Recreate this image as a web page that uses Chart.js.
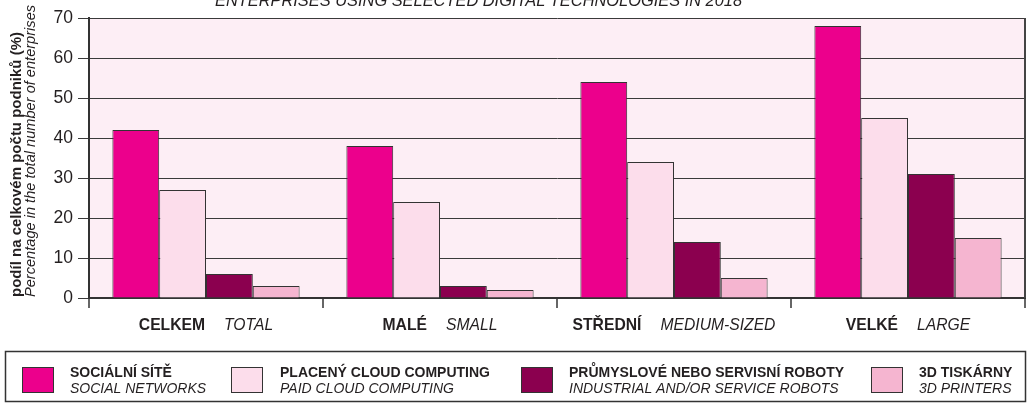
<!DOCTYPE html>
<html>
<head>
<meta charset="utf-8">
<script src="https://cdn.jsdelivr.net/npm/chart.js@4/dist/chart.umd.min.js"></script>
<style>
  body { margin: 0; background: #fff; }
  #wrap { width: 1035px; height: 407px; }
</style>
</head>
<body>
<div id="wrap"><canvas id="techChart" width="1035" height="407"></canvas></div>
<script>
// kategorie podniků
var groupsCz = ['CELKEM', 'MALÉ', 'STŘEDNÍ', 'VELKÉ'];
var groupsEn = ['TOTAL', 'SMALL', 'MEDIUM-SIZED', 'LARGE'];

// řady
var seriesCz = ['SOCIÁLNÍ SÍTĚ', 'PLACENÝ CLOUD COMPUTING', 'PRŮMYSLOVÉ NEBO SERVISNÍ ROBOTY', '3D TISKÁRNY'];
var seriesEn = ['SOCIAL NETWORKS', 'PAID CLOUD COMPUTING', 'INDUSTRIAL AND/OR SERVICE ROBOTS', '3D PRINTERS'];
var socialNetworks = [42, 38, 54, 68];
var cloudComputing = [27, 24, 34, 45];
var robots = [6, 3, 14, 31];
var printers3d = [3, 2, 5, 15];

var yMin = 0, yMax = 70, yStep = 10;

var chartTitle = 'ENTERPRISES USING SELECTED DIGITAL TECHNOLOGIES IN 2018';
var yTitleCz = 'podíl na celkovém počtu podniků (%)';
var yTitleEn = 'Percentage in the total number of enterprises';

var colors = ['#EC008C', '#FCDDEB', '#8B004F', '#F5B5D0'];
var FONT = '"Liberation Sans", Arial, Helvetica, sans-serif';
var TEXT = '#231F20';

var decor = {
	id: 'decor',
	beforeDraw: function(chart) {
		var ctx = chart.ctx, a = chart.chartArea;
		ctx.save();
		ctx.fillStyle = '#FDEEF5';
		ctx.fillRect(a.left, a.top, a.right - a.left, a.bottom - a.top);
		ctx.restore();
	},
	afterDraw: function(chart) {
		var ctx = chart.ctx, a = chart.chartArea;
		var x = chart.scales.x;
		ctx.save();
		// pravý okraj
		ctx.strokeStyle = '#444';
		ctx.lineWidth = 2;
		ctx.beginPath();
		ctx.moveTo(a.right, a.top);
		ctx.lineTo(a.right, a.bottom);
		ctx.stroke();

		// titulek (oříznutý nahoře)
		ctx.fillStyle = TEXT;
		ctx.font = 'italic 16.4px ' + FONT;
		ctx.textAlign = 'left';
		ctx.textBaseline = 'alphabetic';
		ctx.fillText(chartTitle, 215, 6);

		// popisky skupin
		for (var i = 0; i < groupsCz.length; i++) {
			var cx = x.getPixelForValue(i);
			ctx.font = 'bold 15.7px ' + FONT;
			var w1 = ctx.measureText(groupsCz[i]).width;
			ctx.font = 'italic 15.7px ' + FONT;
			var w2 = ctx.measureText(groupsEn[i]).width;
			var gap = 19;
			var start = cx - (w1 + gap + w2) / 2;
			ctx.textAlign = 'left';
			ctx.font = 'bold 15.7px ' + FONT;
			ctx.fillText(groupsCz[i], start, 330);
			ctx.font = 'italic 15.7px ' + FONT;
			ctx.fillText(groupsEn[i], start + w1 + gap, 330);
		}

		// název osy y
		ctx.save();
		ctx.translate(0, 297);
		ctx.rotate(-Math.PI / 2);
		ctx.textAlign = 'left';
		ctx.font = 'bold 15px ' + FONT;
		ctx.fillText(yTitleCz, 0, 21);
		ctx.font = 'italic 14.6px ' + FONT;
		ctx.fillText(yTitleEn, 0, 34.5);
		ctx.restore();

		// legenda
		ctx.strokeStyle = '#333';
		ctx.lineWidth = 1.5;
		ctx.strokeRect(5.5, 351.5, 1020, 50);
		var swX = [22, 231, 521, 871];
		var txX = [70, 280, 569, 919];
		for (var j = 0; j < seriesCz.length; j++) {
			ctx.fillStyle = colors[j];
			ctx.fillRect(swX[j], 367, 31, 25);
			ctx.lineWidth = 1;
			ctx.strokeStyle = '#333';
			ctx.strokeRect(swX[j] + 0.5, 367.5, 31, 25);
			ctx.fillStyle = TEXT;
			ctx.font = 'bold 14px ' + FONT;
			ctx.fillText(seriesCz[j], txX[j], 377);
			ctx.font = 'italic 14px ' + FONT;
			ctx.fillText(seriesEn[j], txX[j], 393);
		}
		ctx.restore();
	}
};

window.onload = function() {
	var ctx = document.getElementById('techChart').getContext('2d');
	var series = [socialNetworks, cloudComputing, robots, printers3d];
	var datasets = [];
	for (var i = 0; i < series.length; i++) {
		datasets.push({
			label: seriesCz[i],
			data: series[i],
			backgroundColor: colors[i],
			borderColor: '#333',
			borderWidth: 1,
			categoryPercentage: 0.8,
			barPercentage: 1.0
		});
	}
	var techChart = new Chart(ctx, {
		type: 'bar',
		data: {
			labels: groupsCz,
			datasets: datasets
		},
		options: {
			responsive: false,
			animation: false,
			layout: { padding: { left: 0, right: 10, top: 18, bottom: 0 } },
			plugins: {
				legend: { display: false },
				tooltip: { enabled: false },
				title: { display: false }
			},
			scales: {
				x: {
					grid: {
						drawOnChartArea: false,
						drawTicks: true,
						tickLength: 10,
						color: '#666',
						lineWidth: 2
					},
					border: { color: '#333', width: 2 },
					ticks: { display: false },
					afterFit: function(s) { s.height = 109; }
				},
				y: {
					min: yMin,
					max: yMax,
					ticks: {
						stepSize: yStep,
						color: TEXT,
						padding: 5,
						font: { family: FONT, size: 17.5 }
					},
					grid: {
						color: '#3a3a3a',
						lineWidth: 1,
						tickLength: 11
					},
					border: { color: '#333', width: 2 },
					afterFit: function(s) { s.width = 89; }
				}
			}
		},
		plugins: [decor]
	});
};
</script>
</body>
</html>
